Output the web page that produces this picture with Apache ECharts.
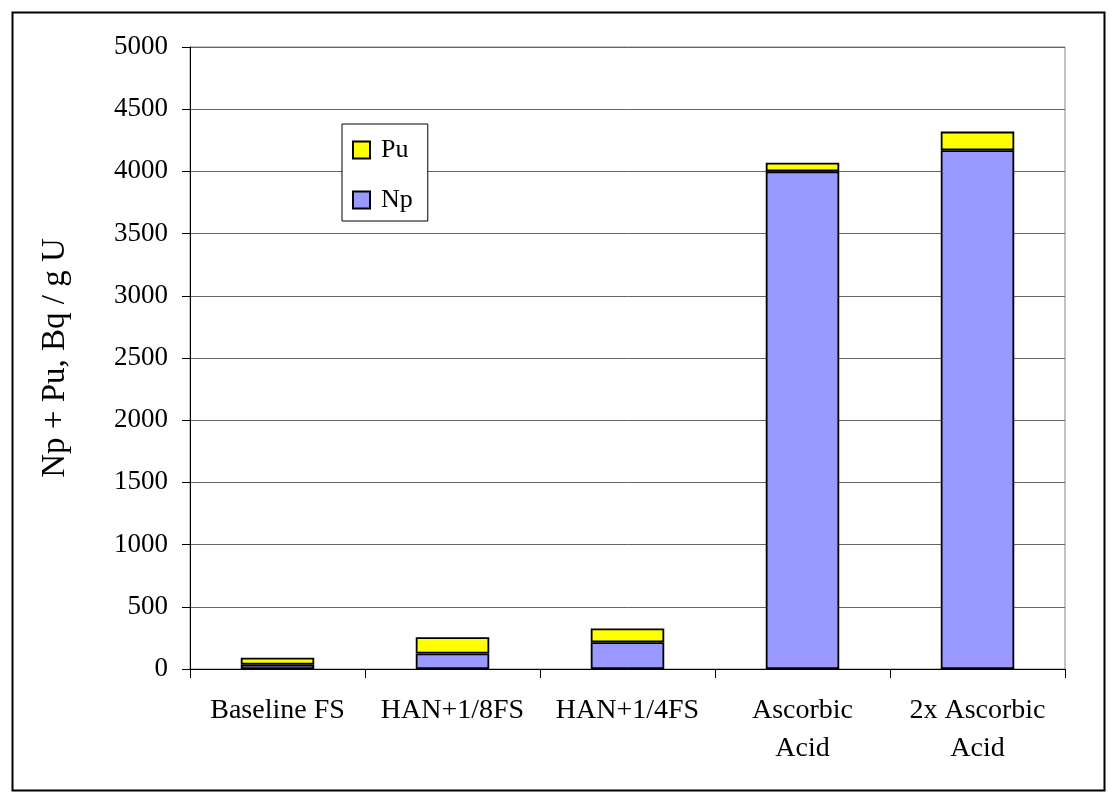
<!DOCTYPE html>
<html><head><meta charset="utf-8">
<script src="https://cdn.jsdelivr.net/npm/echarts@6/dist/echarts.min.js"></script>
<style>html,body{margin:0;padding:0;background:#fff}#c{width:1113px;height:799px}</style>
</head><body><div id="c"></div>
<script>
const categories = ['Baseline FS', 'HAN+1/8FS', 'HAN+1/4FS', 'Ascorbic\nAcid', '2x Ascorbic\nAcid'];
const npValues = [35, 125, 215, 4000, 4170];
const puValues = [55, 130, 110, 70, 150];
const yTicks = [0, 500, 1000, 1500, 2000, 2500, 3000, 3500, 4000, 4500, 5000];
const font = '"Liberation Serif", "Times New Roman", serif';

const chart = echarts.init(document.getElementById('c'));
chart.setOption({
  animation: false,
  backgroundColor: '#fff',
  graphic: [{
    type: 'rect', left: 10, top: 10,
    shape: { width: 1092, height: 778 },
    style: { fill: 'none', stroke: '#000', lineWidth: 2 }, z: 100
  }],
  grid: { left: 190, right: 48, top: 47, bottom: 130, show: true, borderColor: '#888', borderWidth: 1 },
  legend: {
    orient: 'vertical', left: 342, top: 124,
    data: ['Pu', 'Np'],
    itemWidth: 17, itemHeight: 17, itemGap: 24,
    padding: [13, 15, 8, 10],
    backgroundColor: '#fff', borderColor: '#000', borderWidth: 1,
    textStyle: { fontFamily: font, fontSize: 26, color: '#000', padding: [0, 0, 0, 6] },
    icon: 'rect'
  },
  xAxis: {
    type: 'category', data: categories,
    axisLine: { lineStyle: { color: '#000', width: 1 } },
    axisTick: { show: true, length: 9, lineStyle: { color: '#000' } },
    axisLabel: { fontFamily: font, fontSize: 28, color: '#000', margin: 23, lineHeight: 38, interval: 0 }
  },
  yAxis: {
    type: 'value', min: yTicks[0], max: yTicks[yTicks.length - 1], interval: 500,
    name: 'Np + Pu, Bq / g U', nameLocation: 'middle', nameGap: 118, nameRotate: 90,
    nameTextStyle: { fontFamily: font, fontSize: 33, color: '#000' },
    axisLine: { show: true, lineStyle: { color: '#000', width: 1 } },
    axisTick: { show: true, length: 8, lineStyle: { color: '#000' } },
    axisLabel: { fontFamily: font, fontSize: 27, color: '#000', margin: 22, formatter: v => String(v) },
    splitLine: { show: true, lineStyle: { color: '#666', width: 1 } }
  },
  series: [
    { name: 'Np', type: 'bar', stack: 'a', data: npValues, barWidth: '42%',
      itemStyle: { color: '#9999FF', borderColor: '#000', borderWidth: 1.8 } },
    { name: 'Pu', type: 'bar', stack: 'a', data: puValues, barWidth: '42%',
      itemStyle: { color: '#FFFF00', borderColor: '#000', borderWidth: 1.8 } }
  ]
});
</script></body></html>
